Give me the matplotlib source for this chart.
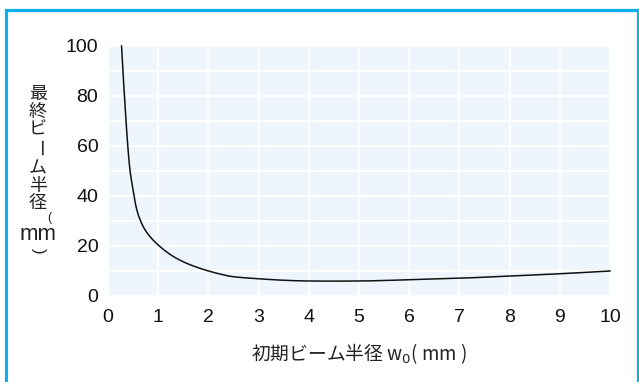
import matplotlib
matplotlib.use("Agg")
import matplotlib.pyplot as plt
from matplotlib.patches import Rectangle
import numpy as np

plt.rcParams['font.family'] = ['Liberation Sans', 'Noto Sans CJK JP', 'DejaVu Sans']

# Initial beam radius w0 (mm) and final beam radius (mm)
w0 = [0.27, 0.30, 0.44, 0.50, 0.55, 0.62, 0.74, 1.00, 1.37, 1.77, 2.23,
      2.50, 3.00, 3.50, 4.00, 4.50, 5.00, 6.00, 7.00, 8.00, 9.00, 10.00]
final_radius = [100, 89, 50, 42.4, 36.5, 31.5, 26.4, 20.4, 15, 11.5, 8.8,
                7.7, 6.9, 6.3, 6.0, 5.95, 6.0, 6.5, 7.1, 8.0, 8.9, 10.0]

x_ticks = list(range(0, 11))
y_ticks = [0, 20, 40, 60, 80, 100]

W, H = 639, 382
fig = plt.figure(figsize=(W / 100, H / 100), dpi=100)

# blue frame around the figure (open at the bottom)
fig.patches.append(Rectangle((5.5 / W, -10 / H), 632 / W, (H - 9.5 + 10) / H,
                             transform=fig.transFigure, fill=False,
                             edgecolor='#0AAFEE', linewidth=2.3))

ax = fig.add_axes([108 / W, 1 - 296 / H, 502 / W, 250 / H])
ax.set_facecolor('#EEF5FC')
ax.set_xlim(0, 10)
ax.set_ylim(0, 100)
ax.set_xticks(x_ticks)
ax.set_yticks(y_ticks)
ax.set_yticks(np.arange(0, 101, 10), minor=True)
ax.grid(True, which='both', color='white', linewidth=1.4)
ax.set_axisbelow(True)
for s in ax.spines.values():
    s.set_visible(False)
ax.tick_params(length=0, labelsize=14, colors='#111111')
ax.tick_params(axis='x', pad=9)
ax.tick_params(axis='y', pad=7)
ax.tick_params(which='minor', length=0)

# smooth the curve with a monotone cubic interpolation between read points
xs = np.array(w0, dtype=float)
ys = np.array(final_radius, dtype=float)
d = np.diff(ys) / np.diff(xs)
m = np.zeros_like(xs)
m[0], m[-1] = d[0], d[-1]
for i in range(1, len(xs) - 1):
    if d[i - 1] * d[i] > 0:
        h0, h1 = xs[i] - xs[i - 1], xs[i + 1] - xs[i]
        w1, w2 = 2 * h1 + h0, h1 + 2 * h0
        m[i] = (w1 + w2) / (w1 / d[i - 1] + w2 / d[i])
xx, yy = [], []
for i in range(len(xs) - 1):
    t = np.linspace(0, 1, 30)
    h = xs[i + 1] - xs[i]
    h00 = 2 * t**3 - 3 * t**2 + 1
    h10 = t**3 - 2 * t**2 + t
    h01 = -2 * t**3 + 3 * t**2
    h11 = t**3 - t**2
    xx.extend(xs[i] + t * h)
    yy.extend(h00 * ys[i] + h10 * h * m[i] + h01 * ys[i + 1] + h11 * h * m[i + 1])
ax.plot(xx, yy, color='#111111', linewidth=1.1, clip_on=False)

fig.text(359 / W, 1 - 354 / H, '初期ビーム半径 w$_0$( mm )', ha='center', va='center',
         fontsize=13.5, family=['Noto Sans CJK JP', 'DejaVu Sans'], color='#222222')

# vertical y-axis label
ylab = [('最', 38, 94, 0, 13), ('終', 38, 112, 0, 13), ('ビ', 38, 130, 0, 13),
        ('ー', 38, 148, -90, 13), ('ム', 38, 168, 0, 13), ('半', 38, 186, 0, 13),
        ('径', 38, 203, 0, 13), ('(', 49, 218, 0, 9), ('mm', 38, 235, 0, 16),
        (')', 38, 251, -90, 12)]
for ch, px, py, rot, fs in ylab:
    fam = ['Liberation Sans'] if ch in ('mm', '(', ')') else ['Noto Sans CJK JP']
    fig.text(px / W, 1 - py / H, ch, ha='center', va='center', rotation=rot,
             fontsize=fs, family=fam, color='#222222')

fig.savefig('out.png', dpi=100)
